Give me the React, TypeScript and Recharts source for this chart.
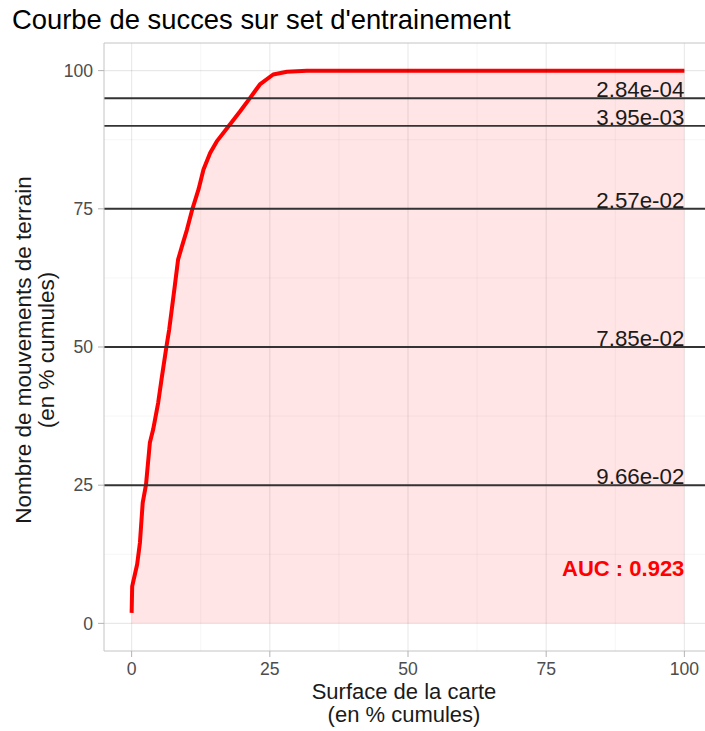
import React from "react";
import {
  Area,
  ComposedChart,
  ReferenceDot,
  ReferenceLine,
  XAxis,
  YAxis,
} from "recharts";

// success curve (x: % of map surface, y: % of terrain movements)
const surface = [
  0, 0.1, 1.0, 1.5, 2.0, 2.6, 3.3, 3.9, 4.8, 5.4, 6.3, 6.8, 7.8, 8.4, 9.1, 10.0,
  11.0, 12.1, 13.0, 14.2, 15.4, 17.5, 19.6, 21.3, 23.2, 25.6, 28.1, 31.7, 100,
];
const success = [
  1.9, 6.7, 10.7, 14.6, 21.8, 25.1, 32.7, 35.1, 39.9, 44.1, 50.1, 53.2, 61.0,
  65.8, 68.2, 71.2, 75.0, 78.5, 82.1, 85.1, 87.2, 89.9, 92.6, 94.9, 97.5, 99.3,
  99.8, 100, 100,
];

// threshold lines and their labels
const levels = [95, 90, 75, 50, 25];
const levelLabels = ["2.84e-04", "3.95e-03", "2.57e-02", "7.85e-02", "9.66e-02"];

const ticks = [0, 25, 50, 75, 100];
const minorTicks = [12.5, 37.5, 62.5, 87.5];

const aucText = "AUC : 0.923";
const aucPos = { x: 100, y: 10 };

const FONT = "'Liberation Sans', Arial, sans-serif";

const data = surface.map((x, i) => ({ x, y: success[i] }));

function ThresholdLabel(props: any) {
  const { viewBox, value } = props;
  const x = viewBox.x + viewBox.width / 2;
  const y = viewBox.y + viewBox.height / 2;
  return (
    <text x={x} y={y} dy={-1} textAnchor="end" fontSize={22.3} fill="#1a1a1a" fontFamily={FONT}>
      {value}
    </text>
  );
}

function AucLabel(props: any) {
  const { viewBox, value } = props;
  const x = viewBox.x + viewBox.width / 2;
  const y = viewBox.y + viewBox.height / 2;
  return (
    <text
      x={x}
      y={y}
      textAnchor="end"
      dominantBaseline="central"
      fontSize={22}
      fontWeight="bold"
      fill="#FF0000"
      fontFamily={FONT}
    >
      {value}
    </text>
  );
}

export default function App() {
  const tickStyle = { fill: "#4D4D4D", fontSize: 17.6, fontFamily: FONT };
  const border = "#C4C4C4";
  return (
    <div
      style={{
        position: "absolute",
        left: 0,
        top: 0,
        width: 705,
        height: 731,
        overflow: "hidden",
        background: "#fff",
        fontFamily: FONT,
      }}
    >
      <div
        style={{
          position: "absolute",
          left: 12,
          top: 6,
          fontSize: 27.4,
          lineHeight: "27px",
          color: "#000",
          whiteSpace: "nowrap",
        }}
      >
        Courbe de succes sur set d'entrainement
      </div>

      <div style={{ position: "absolute", left: 0, top: 0 }}>
        <ComposedChart width={720} height={731} data={data} margin={{ top: 43, right: 8, bottom: 0, left: 0 }}>
          {minorTicks.map((v) => (
            <ReferenceLine key={`mx${v}`} x={v} stroke="rgba(0,0,0,0.05)" strokeWidth={0.8} />
          ))}
          {minorTicks.map((v) => (
            <ReferenceLine key={`my${v}`} y={v} stroke="rgba(0,0,0,0.05)" strokeWidth={0.8} />
          ))}
          {ticks.map((v) => (
            <ReferenceLine key={`gx${v}`} x={v} stroke="rgba(0,0,0,0.09)" strokeWidth={1.1} />
          ))}
          {ticks.map((v) => (
            <ReferenceLine key={`gy${v}`} y={v} stroke="rgba(0,0,0,0.09)" strokeWidth={1.1} />
          ))}
          <XAxis
            dataKey="x"
            type="number"
            domain={[-5, 105]}
            ticks={ticks}
            allowDataOverflow
            height={80}
            tick={tickStyle}
            tickSize={6}
            tickMargin={6}
            tickLine={{ stroke: "#B3B3B3" }}
            axisLine={{ stroke: border }}
          />
          <YAxis
            type="number"
            domain={[-5, 105]}
            ticks={ticks}
            allowDataOverflow
            width={104}
            tick={tickStyle}
            tickSize={6}
            tickMargin={5}
            tickLine={{ stroke: "#B3B3B3" }}
            axisLine={{ stroke: border }}
          />
          <ReferenceLine y={105} stroke={border} strokeWidth={1} />
          <Area
            dataKey="y"
            type="linear"
            baseValue={0}
            stroke="#FF0000"
            strokeWidth={4}
            strokeLinejoin="round"
            fill="#FF0000"
            fillOpacity={0.1}
            dot={false}
            activeDot={false}
            isAnimationActive={false}
          />
          {levels.map((v) => (
            <ReferenceLine key={`lv${v}`} y={v} stroke="#333333" strokeWidth={1.9} />
          ))}
          {levels.map((v, i) => (
            <ReferenceDot
              key={`lb${v}`}
              x={100}
              y={v}
              r={0}
              fill="none"
              stroke="none"
              label={{ value: levelLabels[i], content: ThresholdLabel }}
            />
          ))}
          <ReferenceDot
            x={aucPos.x}
            y={aucPos.y}
            r={0}
            fill="none"
            stroke="none"
            label={{ value: aucText, content: AucLabel }}
          />
        </ComposedChart>
      </div>

      <div
        style={{
          position: "absolute",
          left: 104,
          width: 600,
          top: 680,
          textAlign: "center",
          fontSize: 22,
          lineHeight: "23px",
          color: "#1a1a1a",
        }}
      >
        <div>Surface de la carte</div>
        <div>(en % cumules)</div>
      </div>

      <div
        style={{
          position: "absolute",
          left: 35 - 300,
          top: 350 - 23,
          width: 600,
          height: 46,
          transform: "rotate(-90deg)",
          transformOrigin: "center",
          textAlign: "center",
          fontSize: 22.5,
          lineHeight: "23px",
          color: "#1a1a1a",
          whiteSpace: "nowrap",
        }}
      >
        <div>Nombre de mouvements de terrain</div>
        <div>(en % cumules)</div>
      </div>
    </div>
  );
}
